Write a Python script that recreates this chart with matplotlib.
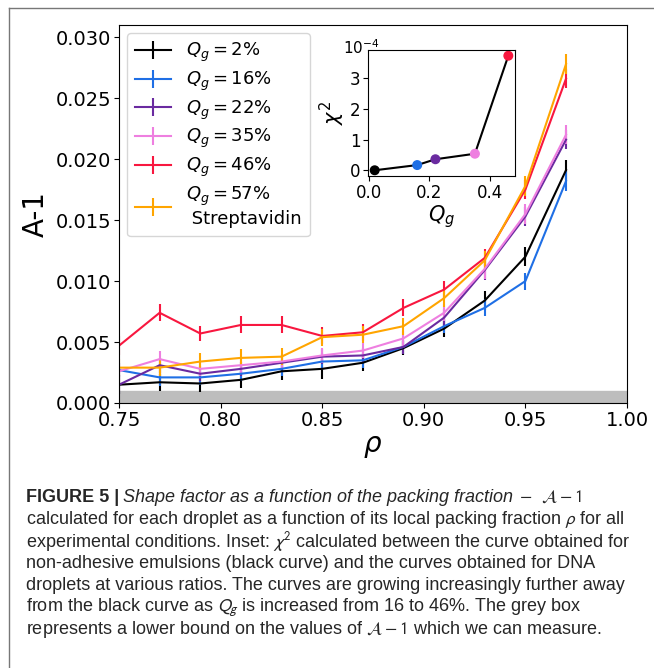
import matplotlib
matplotlib.use("Agg")
import matplotlib.pyplot as plt
from matplotlib.lines import Line2D
from matplotlib.ticker import FuncFormatter

W, H = 654, 668

# packing fraction bins
rho = [0.75, 0.77, 0.79, 0.81, 0.83, 0.85, 0.87, 0.89, 0.91, 0.93, 0.95, 0.97]

a_q02 = [0.0015, 0.0017, 0.0016, 0.0019, 0.0026, 0.0028, 0.0033, 0.0045, 0.0061, 0.0084, 0.0120, 0.0191]
a_q16 = [0.0027, 0.0021, 0.0021, 0.0024, 0.0028, 0.0034, 0.0035, 0.0046, 0.0063, 0.0078, 0.0100, 0.0182]
a_q22 = [0.0015, 0.0031, 0.0024, 0.0028, 0.0033, 0.0038, 0.0039, 0.0046, 0.0070, 0.0109, 0.0153, 0.0216]
a_q35 = [0.0026, 0.0036, 0.0028, 0.0031, 0.0034, 0.0039, 0.0043, 0.0053, 0.0074, 0.0110, 0.0155, 0.0220]
a_q46 = [0.0047, 0.0074, 0.0057, 0.0064, 0.0064, 0.0055, 0.0058, 0.0078, 0.0093, 0.0119, 0.0175, 0.0266]
a_q57 = [0.0029, 0.0029, 0.0034, 0.0037, 0.0038, 0.0054, 0.0056, 0.0063, 0.0086, 0.0117, 0.0178, 0.0278]

e_q02 = [0.0008, 0.0007, 0.0007, 0.0007, 0.0007, 0.0008, 0.0007, 0.0006, 0.0007, 0.0008, 0.0008, 0.0008]
e_q16 = [0.0006, 0.0007, 0.0006, 0.0006, 0.0006, 0.0007, 0.0006, 0.0006, 0.0006, 0.0007, 0.0007, 0.0008]
e_q22 = [0.0008, 0.0006, 0.0006, 0.0006, 0.0006, 0.0006, 0.0006, 0.0006, 0.0007, 0.0008, 0.0008, 0.0008]
e_q35 = [0.0007, 0.0007, 0.0006, 0.0006, 0.0006, 0.0006, 0.0006, 0.0006, 0.0007, 0.0008, 0.0008, 0.0008]
e_q46 = [0.0008, 0.0007, 0.0006, 0.0007, 0.0007, 0.0007, 0.0007, 0.0007, 0.0007, 0.0007, 0.0008, 0.0008]
e_q57 = [0.0007, 0.0007, 0.0007, 0.0007, 0.0007, 0.0007, 0.0007, 0.0007, 0.0007, 0.0008, 0.0008, 0.0008]

labels = [r"$Q_g = 2\%$", r"$Q_g = 16\%$", r"$Q_g = 22\%$", r"$Q_g = 35\%$",
          r"$Q_g = 46\%$", "$Q_g = 57\\%$\n Streptavidin"]
colors = ["black", "#1f6fe5", "#6a2aa0", "#ee7fe0", "#f8173f", "#ffa500"]

# inset: chi^2 vs black curve
qg = [0.02, 0.16, 0.22, 0.35, 0.46]
chi2 = [0.0, 0.17e-4, 0.36e-4, 0.54e-4, 3.74e-4]

fig = plt.figure(figsize=(W / 100, H / 100), dpi=100)

ax = fig.add_axes([119 / W, 1 - 403 / H, 508 / W, 378 / H])
series = [a_q02, a_q16, a_q22, a_q35, a_q46, a_q57]
errs = [e_q02, e_q16, e_q22, e_q35, e_q46, e_q57]
for y, e, c, lab in zip(series, errs, colors, labels):
    ax.errorbar(rho, y, yerr=e, color=c, lw=1.5, elinewidth=1.5, capsize=0, label=lab)

ax.axhspan(0, 0.001, color="#bdbdbd", zorder=0)
ax.set_xlim(0.75, 1.0)
ax.set_ylim(0, 0.031)
ax.set_xticks([0.75, 0.80, 0.85, 0.90, 0.95, 1.00])
ax.set_yticks([0.000, 0.005, 0.010, 0.015, 0.020, 0.025, 0.030])
ax.xaxis.set_major_formatter(FuncFormatter(lambda v, p: f"{v:.2f}"))
ax.yaxis.set_major_formatter(FuncFormatter(lambda v, p: f"{v:.3f}"))
ax.tick_params(labelsize=14, pad=2)
ax.set_xlabel(r"$\rho$", fontsize=20, labelpad=2)
ax.set_ylabel("A-1", fontsize=20)
ax.legend(loc="upper left", fontsize=13, labelspacing=0.3, borderaxespad=0.45,
          borderpad=0.45)

ax_in = fig.add_axes([368 / W, 1 - 176 / H, 147 / W, 126 / H])
ax_in.plot(qg, chi2, color="black", lw=1.5, zorder=1)
ax_in.scatter(qg, chi2, c=colors[:5], s=38, zorder=2)
ax_in.set_xticks([0.0, 0.2, 0.4])
ax_in.set_yticks([0, 1e-4, 2e-4, 3e-4])
ax_in.yaxis.set_major_formatter(FuncFormatter(lambda v, p: f"{v * 1e4:.0f}"))
ax_in.xaxis.set_major_formatter(FuncFormatter(lambda v, p: f"{v:.1f}"))
ax_in.tick_params(labelsize=12, pad=2)
ax_in.set_xlabel(r"$Q_g$", fontsize=15, labelpad=1)
ax_in.set_ylabel(r"$\chi^2$", fontsize=15, labelpad=2)
ax_in.text(-0.17, 1.02, r"$10^{-4}$", transform=ax_in.transAxes, fontsize=11,
           ha="left", va="center")

# frame around the figure panel
fig.add_artist(Line2D([9 / W, 9 / W], [0, 1 - 8 / H], transform=fig.transFigure,
                      color="#777777", lw=1))
fig.add_artist(Line2D([9 / W, 1], [1 - 8 / H, 1 - 8 / H], transform=fig.transFigure,
                      color="#777777", lw=1))

# caption
cap_font = ["Liberation Sans", "DejaVu Sans"]
cap_col = "#262626"
cap_x = 26
cap_y = [502, 524, 547, 568, 590, 612, 634]
cap_rest = [
    r"calculated for each droplet as a function of its local packing fraction $\rho$ for all",
    r"experimental conditions. Inset: $\chi^2$ calculated between the curve obtained for",
    "non-adhesive emulsions (black curve) and the curves obtained for DNA",
    "droplets at various ratios. The curves are growing increasingly further away",
    r"from the black curve as $Q_g$ is increased from 16 to 46%. The grey box",
    r"represents a lower bound on the values of $\mathcal{A} - 1$ which we can measure.",
]


def put(x, y, s, size, **kw):
    return fig.text(x / W, 1 - y / H, s, fontsize=size, family=cap_font, color=cap_col,
                    ha="left", va="baseline", math_fontfamily="stixsans", **kw)


fig.canvas.draw()
renderer = fig.canvas.get_renderer()
probe = put(cap_x, cap_y[1], cap_rest[0], 11)
width = probe.get_window_extent(renderer).width
probe.remove()
fs = 11 * (625 - cap_x) / width

t1 = put(cap_x, cap_y[0], "FIGURE 5 |", fs, weight="bold")
x1 = t1.get_window_extent(renderer).x1 + 4
t2 = put(x1, cap_y[0], "Shape factor as a function of the packing fraction", fs, style="italic")
x2 = t2.get_window_extent(renderer).x1 + 6
put(x2, cap_y[0], r"$-$  $\mathcal{A} - 1$", fs)
for y, s in zip(cap_y[1:], cap_rest):
    put(cap_x, y, s, fs)

fig.savefig("out.png", dpi=100)
